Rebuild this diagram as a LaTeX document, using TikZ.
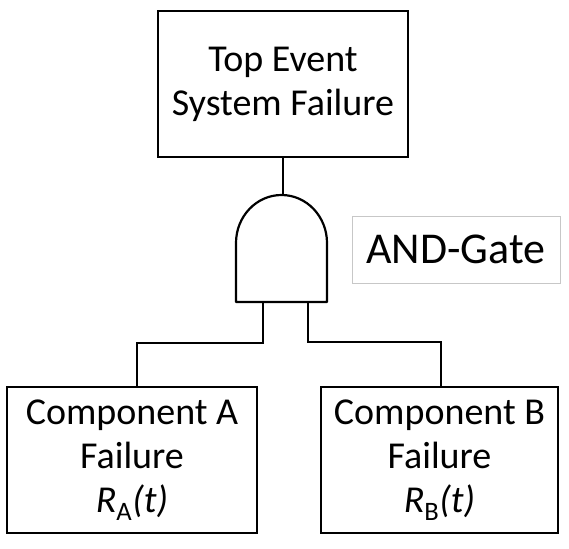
\documentclass[tikz,border=0pt]{standalone}
\usepackage{fontspec}
\setmainfont{Carlito}
\begin{document}
\begin{tikzpicture}[x=1pt,y=-1pt,
  every path/.style={line width=2.2pt},
  ev/.style={draw, line width=2.2pt, rectangle, align=center, inner sep=0pt,
    font=\fontsize{38}{44}\selectfont},
  lbl/.style={draw=black!22, line width=0.9pt, rectangle, inner sep=0pt,
    font=\fontsize{44}{50}\selectfont},
  wire/.style={draw, line width=2.2pt}]
\useasboundingbox (0,0) rectangle (569,548);
\node[ev, minimum width=250pt, minimum height=146pt] (top) at (283,84)
  {Top Event\\System Failure};
\node[ev, minimum width=250pt, minimum height=146pt] (A) at (132,460)
  {Component A\\Failure\\{\itshape R}\textsubscript{A}{\itshape (t)}};
\node[ev, minimum width=237pt, minimum height=146pt] (B) at (439.5,460)
  {Component B\\Failure\\{\itshape R}\textsubscript{B}{\itshape (t)}};
\node[lbl, minimum width=208pt, minimum height=67pt] (lab) at (456,249.5) {AND-Gate};
% gate
\coordinate (gtop) at (283,195);
\coordinate (gl) at (263,302);
\coordinate (gr) at (308,302);
\coordinate (ja) at (137,343);
\coordinate (jb) at (441,342);
\draw[line join=round] (236,302) -- (236,243) arc[start angle=180, end angle=0, x radius=45.5, y radius=-48] -- (327,302) -- cycle;
\draw[wire] (top.south -| gtop) -- (gtop);
\draw[wire] (gl) |- (ja) -- (ja |- A.north);
\draw[wire] (gr) |- (jb) -- (jb |- B.north);
\end{tikzpicture}
\end{document}
